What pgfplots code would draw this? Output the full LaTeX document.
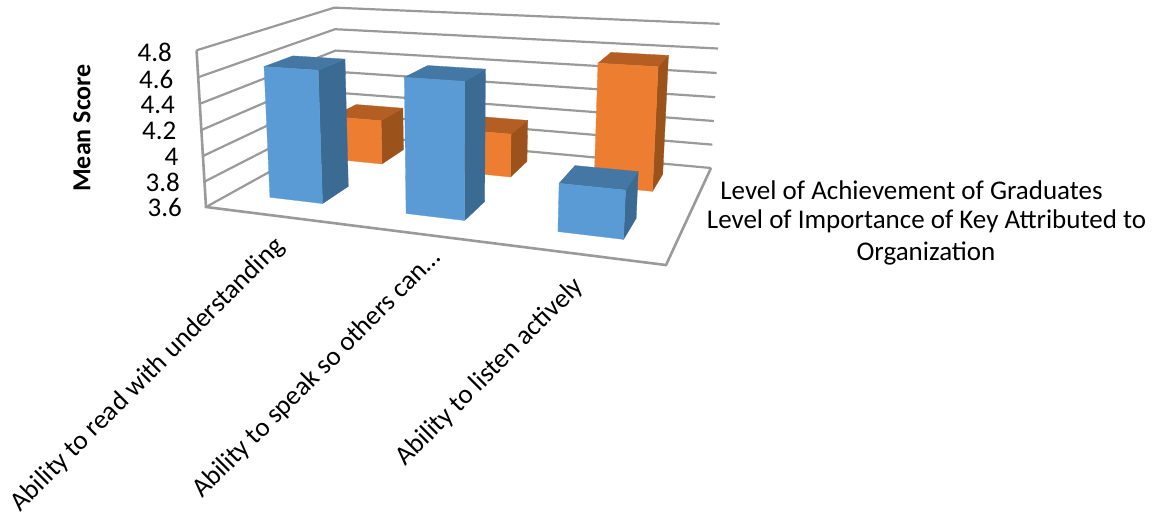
\documentclass[border=0pt]{standalone}
\usepackage{fontspec}
\setmainfont{Carlito}
\usepackage{pgfplots}
\usepackage{pgfplotstable}
\pgfplotsset{compat=1.18}

\definecolor{blueFront}{HTML}{5B9BD5}
\definecolor{blueSide}{HTML}{3B6A92}
\definecolor{blueTop}{HTML}{4577A5}
\definecolor{orangeFront}{HTML}{ED7D31}
\definecolor{orangeSide}{HTML}{9B521B}
\definecolor{orangeTop}{HTML}{B55E23}
\definecolor{frameGrey}{HTML}{9A9A9A}

% Mean scores per attribute (rows) and series (columns)
\pgfplotstableread{
cat importance achievement
0   4.63       3.98
1   4.62       3.96
2   3.95       4.58
}\scores

% Perspective projection of the box: u along the categories, v into the depth,
% w up the score axis (each 0..1). Result in \rx, \ry.
\newcommand\projpt[3]{%
  \pgfmathsetmacro\den{1-.159*#1+.2524*#2-.036*#3}%
  \pgfmathsetmacro\rx{(206+354.1*#1+217.3*#2-16.5*#3)/\den}%
  \pgfmathsetmacro\ry{(207+15.9*#1-39.2*#2-158.5*#3)/\den}%
}
\newcommand\startpath{\gdef\pathcoords{}}
\newcommand\addv[3]{\projpt{#1}{#2}{#3}\xdef\pathcoords{\pathcoords (\rx,\ry)}}
\newcommand\face[1]{%
  \edef\temp{\noexpand\addplot[fill=#1,draw=#1,line width=0.3pt] coordinates {\pathcoords} -- cycle;}\temp}

% One cuboid: category, depth start, depth end, score, three face colours
\newcommand\scorebar[7]{%
  \pgfmathsetmacro\ul{(#1+.5)/3-.0665}%
  \pgfmathsetmacro\ur{(#1+.5)/3+.0665}%
  \pgfmathsetmacro\wt{(#4-3.6)/1.2}%
  \startpath\addv{\ur}{#2}{0}\addv{\ur}{#3}{0}\addv{\ur}{#3}{\wt}\addv{\ur}{#2}{\wt}\face{#6}%
  \startpath\addv{\ul}{#2}{\wt}\addv{\ur}{#2}{\wt}\addv{\ur}{#3}{\wt}\addv{\ul}{#3}{\wt}\face{#7}%
  \startpath\addv{\ul}{#2}{0}\addv{\ur}{#2}{0}\addv{\ur}{#2}{\wt}\addv{\ul}{#2}{\wt}\face{#5}%
}
\newcommand\ticklab[3]{\node[anchor=east,inner sep=0pt,font=\fontsize{27}{30}\selectfont] at (axis cs:#1,#2) {#3};}

\begin{document}
\begin{tikzpicture}
\begin{axis}[
  scale only axis, width=1153pt, height=513pt,
  xmin=0, xmax=1153, ymin=0, ymax=513, y dir=reverse,
  hide axis, clip=false,
  every axis plot/.append style={mark=none},
]
% Walls: horizontal gridlines running along the side wall and the back wall
\foreach \lev in {3.6,3.8,4.0,4.2,4.4,4.6,4.8}{
  \pgfmathsetmacro\wl{(\lev-3.6)/1.2}
  \startpath\addv{0}{0}{\wl}\addv{0}{1}{\wl}\addv{1}{1}{\wl}
  \edef\temp{\noexpand\addplot[draw=frameGrey,line width=2.2pt] coordinates {\pathcoords};}\temp
}
% Left edge of the score axis and the front and right edges of the floor
\startpath\addv{0}{0}{1}\addv{0}{0}{0}\addv{1}{0}{0}\addv{1}{1}{0}
\edef\temp{\noexpand\addplot[draw=frameGrey,line width=2.6pt] coordinates {\pathcoords};}\temp

% Rear series, then front series
\foreach \r in {0,1,2}{
  \pgfplotstablegetelem{\r}{achievement}\of\scores
  \let\val\pgfplotsretval
  \scorebar{\r}{.655}{.865}{\val}{orangeFront}{orangeSide}{orangeTop}
}
\foreach \r in {0,1,2}{
  \pgfplotstablegetelem{\r}{importance}\of\scores
  \let\val\pgfplotsretval
  \scorebar{\r}{.162}{.362}{\val}{blueFront}{blueSide}{blueTop}
}

% Score axis labels
\ticklab{172}{52}{4.8}
\ticklab{173.5}{79}{4.6}
\ticklab{175}{105}{4.4}
\ticklab{176.5}{131}{4.2}
\ticklab{178.5}{157}{4}
\ticklab{180}{182}{3.8}
\ticklab{182}{207}{3.6}
\node[rotate=90,inner sep=0pt,font=\fontsize{26}{29}\selectfont\bfseries] at (axis cs:82,128) {Mean Score};

% Category labels
\node[rotate=45,inner sep=0pt,font=\fontsize{27}{30}\selectfont] at (axis cs:148,375) {Ability to read with understanding};
\node[rotate=45,inner sep=0pt,font=\fontsize{27}{30}\selectfont] at (axis cs:317,374) {Ability to speak so others can…};
\node[rotate=45,inner sep=0pt,font=\fontsize{27}{30}\selectfont] at (axis cs:490,372) {Ability to listen actively};

% Depth axis labels
\node[inner sep=0pt,font=\fontsize{27}{30}\selectfont] at (axis cs:911.5,190) {Level of Achievement of Graduates};
\node[inner sep=0pt,font=\fontsize{27}{30}\selectfont] at (axis cs:926.5,221) {Level of Importance of Key Attributed to};
\node[inner sep=0pt,font=\fontsize{27}{30}\selectfont] at (axis cs:926,253) {Organization};
\end{axis}
\pgfresetboundingbox
\path[use as bounding box] (0,0) rectangle (1153pt,513pt);
\end{tikzpicture}
\end{document}
